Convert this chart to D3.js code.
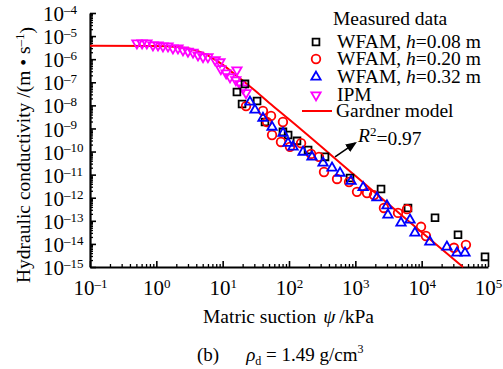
<!DOCTYPE html>
<html>
<head>
<meta charset="utf-8">
<script src="https://cdn.jsdelivr.net/npm/d3@7"></script>
<style>
  body { margin: 0; background: #fff; }
  svg { display: block; font-family: "Liberation Serif", "Times New Roman", serif; }
</style>
</head>
<body>
<div id="chart"></div>
<script>
// values (suction in kPa, K in m/s)
const ipmSuction = [0.51, 0.61, 0.72, 0.89, 1.06, 1.26, 1.5, 1.78, 2.12, 2.52, 3.0, 3.57, 4.25, 5.06, 6.0, 7.7, 9.1, 9.4, 11.3, 12.9, 16.4, 15.8, 18.2, 20.3, 22.5];
const ipmK = [5.0e-6, 5.0e-6, 5.0e-6, 4.1e-6, 4.1e-6, 3.7e-6, 3.7e-6, 3.0e-6, 3.0e-6, 2.5e-6, 2.2e-6, 2.0e-6, 1.5e-6, 1.26e-6, 1.26e-6, 9.3e-7, 7.6e-7, 3.8e-7, 2.5e-7, 1.7e-7, 3.4e-7, 1.26e-7, 8.5e-8, 5.6e-8, 3.5e-8];

const h008Suction = [21.7, 16.4, 19.6, 33, 43.5, 81, 97, 132, 194, 349, 832, 2440, 6220, 15900, 35300, 90200];
const h008K = [8.5e-8, 3.8e-8, 1.15e-8, 1.55e-8, 1.9e-9, 7.1e-10, 5.2e-10, 2.9e-10, 1.17e-10, 5.9e-11, 7.2e-12, 2.4e-12, 3.6e-13, 1.35e-13, 2.5e-14, 2.75e-15];

const h020Suction = [22.5, 40.5, 53.6, 46.6, 81, 55.5, 75.7, 103.5, 152, 215, 283, 337, 530, 804, 1060, 1500, 1910, 2700, 4400, 6010, 9780, 11600, 30700, 46500];
const h020K = [9.3e-9, 5.8e-9, 3.5e-9, 1.9e-9, 1.9e-9, 5.2e-10, 2.6e-10, 1.6e-10, 2.3e-10, 7.9e-11, 5.9e-11, 1.3e-11, 6.5e-12, 4.8e-12, 1.8e-12, 1.6e-12, 1.3e-12, 3.6e-13, 2.2e-13, 3.2e-13, 5.5e-14, 2.2e-14, 6.8e-15, 9.1e-15];

const h032Suction = [25.8, 30.7, 40.5, 55.5, 81.3, 96.6, 115, 163, 222, 326, 445, 588, 861, 1310, 2120, 3000, 3100, 4880, 6670, 7920, 13300, 24000, 34000, 45000];
const h032K = [1.4e-8, 6.3e-9, 2.8e-9, 1.15e-9, 6.3e-10, 2.3e-10, 1.6e-10, 9.5e-11, 5.9e-11, 3.2e-11, 1.95e-11, 1.17e-11, 5.2e-12, 2.8e-12, 1.0e-12, 4.5e-13, 1.8e-13, 8.1e-14, 1.1e-13, 3.0e-14, 1.23e-14, 7.4e-15, 4.1e-15, 4.1e-15];

// Gardner model curve
const gardnerSuction = [0.1, 1, 2, 3, 5, 7, 10, 15, 20, 30, 50, 100, 1000, 10000, 42000];
const gardnerK = [3.8e-6, 3.7e-6, 3.4e-6, 2.95e-6, 1.86e-6, 1.12e-6, 5.8e-7, 2.3e-7, 1.2e-7, 4.6e-8, 1.3e-8, 2.5e-9, 8.9e-12, 3.2e-14, 1.0e-15];

const xTickExp = [-1, 0, 1, 2, 3, 4, 5];
const yTickExp = [-4, -5, -6, -7, -8, -9, -10, -11, -12, -13, -14, -15];

const width = 503, height = 369;
const mLeft = 90, mRight = 488, mTop = 13, mBottom = 267;

const svg = d3.select("#chart").append("svg")
    .attr("width", width)
    .attr("height", height);

const x = d3.scaleLog().domain([1e-1, 1e5]).range([mLeft, mRight]);
const y = d3.scaleLog().domain([1e-15, 1e-4]).range([mBottom, mTop]);

// minor ticks 2..9 in each decade
function minors(lo, hi) {
    const out = [];
    for (let e = lo; e < hi; e++) {
        for (let m = 2; m <= 9; m++) out.push(m * Math.pow(10, e));
    }
    return out;
}

// "10" + superscript exponent
function powLabel(sel, e) {
    sel.text(null);
    sel.append("tspan").text("10");
    sel.append("tspan")
        .attr("dy", "-0.55em")
        .style("font-size", "13px")
        .text(e < 0 ? "\u2013" + Math.abs(e) : String(e));
}

// x axis
svg.append("g")
    .attr("transform", `translate(0,${mBottom})`)
    .call(d3.axisBottom(x).tickValues(minors(-1, 5)).tickSize(-3).tickFormat(""))
    .call(g => g.select(".domain").remove())
    .selectAll("line").attr("stroke-width", 1.3);

const xAxis = svg.append("g")
    .attr("transform", `translate(0,${mBottom})`)
    .call(d3.axisBottom(x)
        .tickValues(xTickExp.map(e => Math.pow(10, e)))
        .tickSizeInner(-6).tickSizeOuter(0).tickPadding(12));
xAxis.select(".domain").attr("stroke-width", 2.2);
xAxis.selectAll("line").attr("stroke-width", 1.6);
xAxis.selectAll("text")
    .style("font-size", "21px")
    .attr("fill", "#000")
    .attr("dy", "0.75em")
    .each(function(d) { powLabel(d3.select(this), Math.round(Math.log10(d))); });
xAxis.attr("font-family", null);

// y axis
svg.append("g")
    .attr("transform", `translate(${mLeft},0)`)
    .call(d3.axisLeft(y).tickValues(minors(-15, -4)).tickSize(-3).tickFormat(""))
    .call(g => g.select(".domain").remove())
    .selectAll("line").attr("stroke-width", 1.3);

const yAxis = svg.append("g")
    .attr("transform", `translate(${mLeft},0)`)
    .call(d3.axisLeft(y)
        .tickValues(yTickExp.map(e => Math.pow(10, e)))
        .tickSizeInner(-6).tickSizeOuter(0));
yAxis.select(".domain").attr("stroke-width", 2.2);
yAxis.selectAll("line").attr("stroke-width", 1.6);
yAxis.selectAll("text")
    .style("font-size", "21px")
    .attr("fill", "#000")
    .attr("text-anchor", "start")
    .attr("x", 43 - mLeft)
    .attr("dy", "0.36em")
    .each(function(d) { powLabel(d3.select(this), Math.round(Math.log10(d))); });
yAxis.attr("font-family", null);

// Gardner model line
const line = d3.line()
    .x(d => x(d[0]))
    .y(d => y(d[1]))
    .curve(d3.curveMonotoneX);

svg.append("path")
    .datum(d3.zip(gardnerSuction, gardnerK))
    .attr("d", line)
    .attr("fill", "none")
    .attr("stroke", "#ff0000")
    .attr("stroke-width", 2);

// markers
const squareSym = d3.symbol().type(d3.symbolSquare).size(46);
const triSym = d3.symbol().type(d3.symbolTriangle).size(38);

function drawSeries(sx, sk, kind, color) {
    const pts = d3.zip(sx, sk);
    const g = svg.append("g");
    if (kind === "circle") {
        g.selectAll("circle").data(pts).join("circle")
            .attr("cx", d => x(d[0]))
            .attr("cy", d => y(d[1]))
            .attr("r", 4.3)
            .attr("fill", "none")
            .attr("stroke", color)
            .attr("stroke-width", 1.8);
    } else {
        const sym = kind === "square" ? squareSym : triSym;
        const rot = kind === "down" ? 180 : 0;
        g.selectAll("path").data(pts).join("path")
            .attr("d", sym)
            .attr("transform", d => `translate(${x(d[0])},${y(d[1])}) rotate(${rot})`)
            .attr("fill", "none")
            .attr("stroke", color)
            .attr("stroke-width", 1.8);
    }
}

drawSeries(ipmSuction, ipmK, "down", "#ff00ff");
drawSeries(h008Suction, h008K, "square", "#000000");
drawSeries(h020Suction, h020K, "circle", "#ff0000");
drawSeries(h032Suction, h032K, "up", "#0000ff");

// R^2 annotation with arrow
svg.append("defs").append("marker")
    .attr("id", "arrow")
    .attr("viewBox", "0 0 10 10")
    .attr("refX", 8).attr("refY", 5)
    .attr("markerWidth", 7).attr("markerHeight", 7)
    .attr("orient", "auto")
    .append("path").attr("d", "M0,1 L10,5 L0,9 Z").attr("fill", "#000");

svg.append("line")
    .attr("x1", x(494)).attr("y1", y(5.9e-11))
    .attr("x2", x(990)).attr("y2", y(2.3e-10))
    .attr("stroke", "#000")
    .attr("stroke-width", 1.6)
    .attr("marker-end", "url(#arrow)");

const r2 = svg.append("text")
    .attr("x", 358).attr("y", 142)
    .style("font-size", "19.5px");
r2.append("tspan").attr("font-style", "italic").text("R");
r2.append("tspan").attr("dy", "-0.5em").style("font-size", "13px").text("2");
r2.append("tspan").attr("dy", "0.5em").text("=0.97");

// legend
const legend = svg.append("g").style("font-size", "19.5px");
legend.append("text").attr("x", 333).attr("y", 25).text("Measured data");

const legendItems = [
    { kind: "square", color: "#000000", label: "0.08" },
    { kind: "circle", color: "#ff0000", label: "0.20" },
    { kind: "up", color: "#0000ff", label: "0.32" },
    { kind: "down", color: "#ff00ff", label: null }
];
const rowY = [42, 59, 77, 95];

legendItems.forEach((it, i) => {
    const cy = rowY[i];
    if (it.kind === "circle") {
        legend.append("circle")
            .attr("cx", 316).attr("cy", cy).attr("r", 4.3)
            .attr("fill", "none").attr("stroke", it.color).attr("stroke-width", 1.8);
    } else {
        legend.append("path")
            .attr("d", it.kind === "square" ? squareSym : triSym)
            .attr("transform", `translate(316,${cy}) rotate(${it.kind === "down" ? 180 : 0})`)
            .attr("fill", "none").attr("stroke", it.color).attr("stroke-width", 1.8);
    }
    const t = legend.append("text").attr("x", 337).attr("y", cy + 6);
    if (it.label) {
        t.append("tspan").text("WFAM, ");
        t.append("tspan").attr("font-style", "italic").text("h");
        t.append("tspan").text("=" + it.label + " m");
    } else {
        t.text("IPM");
    }
});

legend.append("line")
    .attr("x1", 302).attr("x2", 332)
    .attr("y1", 111).attr("y2", 111)
    .attr("stroke", "#ff0000").attr("stroke-width", 2);
legend.append("text").attr("x", 336).attr("y", 117).text("Gardner model");

// axis titles
const xt = svg.append("text")
    .attr("x", 203).attr("y", 323)
    .style("font-size", "19.5px");
xt.append("tspan").text("Matric suction");
xt.append("tspan").attr("dx", 7).attr("font-style", "italic").text("\u03c8");
xt.append("tspan").attr("dx", 4).text("/kPa");

const yt = svg.append("text")
    .attr("transform", "translate(30,155) rotate(-90)")
    .attr("text-anchor", "middle")
    .style("font-size", "19.5px");
yt.append("tspan").text("Hydraulic conductivity /(m \u2022 s");
yt.append("tspan").attr("dy", "-0.5em").style("font-size", "13px").text("\u20131");
yt.append("tspan").attr("dy", "0.5em").text(")");

// caption
const cap = svg.append("text")
    .attr("x", 197).attr("y", 361)
    .style("font-size", "19px");
cap.append("tspan").text("(b)");
cap.append("tspan").attr("dx", 27).attr("font-style", "italic").text("\u03c1");
cap.append("tspan").attr("dy", 4).style("font-size", "12px").text("d");
cap.append("tspan").attr("dy", -4).text(" = 1.49 g/cm");
cap.append("tspan").attr("dy", -8).style("font-size", "12px").text("3");
</script>
</body>
</html>
